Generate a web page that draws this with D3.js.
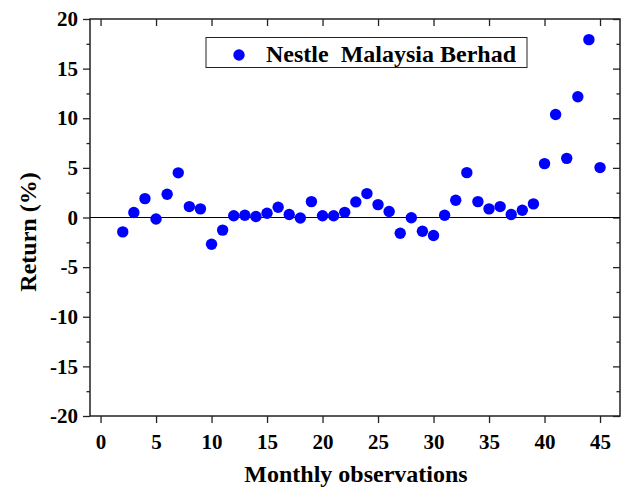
<!DOCTYPE html>
<html>
<head>
<meta charset="utf-8">
<script src="https://cdn.jsdelivr.net/npm/d3@7"></script>
<style>
  body { margin: 0; background: #fff; }
  svg text { font-family: "Liberation Serif", "Times New Roman", serif; font-weight: bold; fill: #000; }
</style>
</head>
<body>
<svg id="chart" width="624" height="489"></svg>
<script>
// monthly observations and returns (%)
const months = [2, 3, 4, 5, 6, 7, 8, 9, 10, 11, 12, 13, 14, 15, 16, 17, 18, 19, 20, 21, 22, 23,
    24, 25, 26, 27, 28, 29, 30, 31, 32, 33, 34, 35, 36, 37, 38, 39, 40, 41, 42, 43, 44, 45];
const returns = [-1.45, 0.5, 1.9, -0.15, 2.35, 4.5, 1.1, 0.87, -2.7, -1.27, 0.17, 0.22, 0.1, 0.43,
    1.03, 0.3, -0.05, 1.6, 0.17, 0.17, 0.52, 1.57, 2.41, 1.3, 0.6, -1.58, -0.03, -1.38, -1.81,
    0.23, 1.74, 4.52, 1.6, 0.87, 1.1, 0.3, 0.73, 1.37, 5.43, 10.38, 5.96, 12.16, 17.92, 5.03];
const xTicks = [0, 5, 10, 15, 20, 25, 30, 35, 40, 45];
const yTicks = [-20, -15, -10, -5, 0, 5, 10, 15, 20];
const seriesName = "Nestle\u00a0 Malaysia Berhad";

const svg = d3.select("#chart");
const serif = "'Liberation Serif', 'Times New Roman', serif";

const pL = 90, pR = 620, pT = 19, pB = 416; // plot frame edges

const xScale = d3.scaleLinear().domain([-0.95, 46.8]).range([pL, pR]);
const yScale = d3.scaleLinear().domain([-20, 20]).range([pB, pT]);

const minorY = d3.range(-17.5, 20, 5);
const fmt = d => String(d); // plain hyphen minus like the original

// bottom axis
const xAxis = svg.append("g")
    .attr("transform", "translate(0," + pB + ")")
    .call(d3.axisBottom(xScale).tickValues(xTicks).tickSize(7).tickPadding(7).tickFormat(fmt));
// top axis (inside ticks, no labels)
svg.append("g")
    .attr("transform", "translate(0," + pT + ")")
    .call(d3.axisBottom(xScale).tickValues(xTicks).tickSize(7).tickFormat(""));

// left axis with minor ticks
svg.append("g")
    .attr("transform", "translate(" + pL + ",0)")
    .call(d3.axisLeft(yScale).tickValues(minorY).tickSize(3.5).tickFormat(""));
const yAxis = svg.append("g")
    .attr("transform", "translate(" + pL + ",0)")
    .call(d3.axisLeft(yScale).tickValues(yTicks).tickSize(7).tickPadding(5).tickFormat(fmt));
// right axis (inside ticks)
svg.append("g")
    .attr("transform", "translate(" + pR + ",0)")
    .call(d3.axisLeft(yScale).tickValues(yTicks).tickSize(7).tickFormat(""));
svg.append("g")
    .attr("transform", "translate(" + pR + ",0)")
    .call(d3.axisLeft(yScale).tickValues(minorY).tickSize(3.5).tickFormat(""));

svg.selectAll(".domain").remove();
svg.selectAll(".tick line").attr("stroke", "#222").attr("stroke-width", 1.3);
svg.selectAll(".tick text")
    .style("font-family", serif)
    .style("font-weight", "bold")
    .style("font-size", "21px");
xAxis.selectAll(".tick text").attr("dy", "0.9em");

// frame
svg.append("rect")
    .attr("x", pL).attr("y", pT)
    .attr("width", pR - pL).attr("height", pB - pT)
    .attr("fill", "none").attr("stroke", "#222").attr("stroke-width", 1.5);

// zero line
svg.append("line")
    .attr("x1", pL).attr("x2", pR)
    .attr("y1", yScale(0)).attr("y2", yScale(0))
    .attr("stroke", "#000").attr("stroke-width", 1.2);

// points
svg.append("g").selectAll("circle")
    .data(months.map((m, i) => [m, returns[i]]))
    .join("circle")
    .attr("cx", d => xScale(d[0]))
    .attr("cy", d => yScale(d[1]))
    .attr("r", 5.7)
    .attr("fill", "#0000ff");

// legend
const legend = svg.append("g");
legend.append("rect")
    .attr("x", 206).attr("y", 37.5).attr("width", 321).attr("height", 30)
    .attr("fill", "#fff").attr("stroke", "#222").attr("stroke-width", 1);
legend.append("circle")
    .attr("cx", 239).attr("cy", 55).attr("r", 5.7).attr("fill", "#0000ff");
legend.append("text")
    .attr("x", 266).attr("y", 61.5)
    .style("font-family", serif)
    .style("font-size", "24px")
    .text(seriesName);

// axis titles
svg.append("text")
    .attr("x", 356).attr("y", 482)
    .attr("text-anchor", "middle")
    .style("font-family", serif)
    .style("font-size", "24px")
    .text("Monthly observations");
svg.append("text")
    .attr("transform", "translate(36,232) rotate(-90)")
    .attr("text-anchor", "middle")
    .style("font-family", serif)
    .style("font-size", "24px")
    .text("Return (%)");
</script>
</body>
</html>
